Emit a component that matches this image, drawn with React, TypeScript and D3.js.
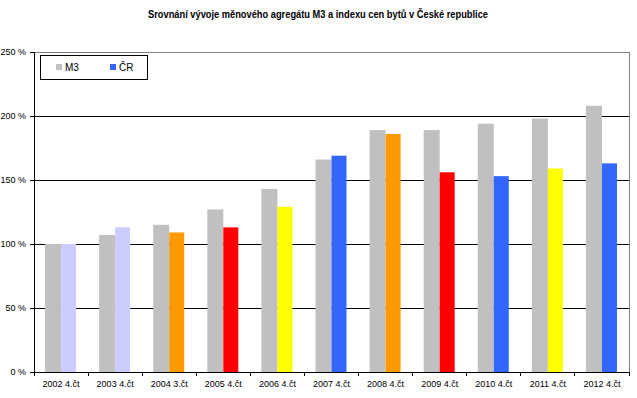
import * as d3 from 'd3'
import { useEffect, useRef } from 'react'

const categories = ['2002 4.čt', '2003 4.čt', '2004 3.čt', '2005 4.čt', '2006 4.čt', '2007 4.čt', '2008 4.čt', '2009 4.čt', '2010 4.čt', '2011 4.čt', '2012 4.čt']
const m3Values = [100, 107, 115, 127, 143, 166, 189, 189, 194, 198, 208]
const crValues = [100, 113, 109, 113, 129, 169, 186, 156, 153, 159, 163]
const crColors = ['#CCCCFF', '#CCCCFF', '#FF9900', '#FF0000', '#FFFF00', '#3366FF', '#FF9900', '#FF0000', '#3366FF', '#FFFF00', '#3366FF']
const yTicks = [0, 50, 100, 150, 200, 250]

const App = () => {
  const ref = useRef<SVGSVGElement>(null)

  useEffect(() => {
    const svg = d3.select(ref.current)
    svg.selectAll('*').remove()

    const left = 34
    const right = 629
    const top = 52
    const bottom = 372
    const font = 'Arial, "Liberation Sans", sans-serif'

    const x = d3.scaleBand().domain(categories).range([left, right])
    const y = d3.scaleLinear().domain([0, 250]).range([bottom, top])
    const bw = 16

    svg
      .append('text')
      .attr('x', 318)
      .attr('y', 18)
      .attr('text-anchor', 'middle')
      .style('font-family', font)
      .style('font-size', '10.5px')
      .style('font-weight', 'bold')
      .attr('textLength', 340)
      .attr('lengthAdjust', 'spacingAndGlyphs')
      .text('Srovnání vývoje měnového agregátu M3 a indexu cen bytů v České republice')

    // plot border (gray)
    svg
      .append('rect')
      .attr('x', left)
      .attr('y', top)
      .attr('width', right - left)
      .attr('height', bottom - top)
      .attr('fill', 'white')
      .attr('stroke', '#808080')
      .attr('stroke-width', 1)
      .attr('shape-rendering', 'crispEdges')

    // grid lines
    svg
      .selectAll('line.grid')
      .data(yTicks.filter((t) => t > 0 && t < 250))
      .enter()
      .append('line')
      .attr('class', 'grid')
      .attr('x1', left)
      .attr('x2', right)
      .attr('y1', (d) => y(d))
      .attr('y2', (d) => y(d))
      .attr('stroke', 'black')
      .attr('shape-rendering', 'crispEdges')

    const g = svg.append('g')
    categories.forEach((c, i) => {
      const cx = (x(c) as number) + x.bandwidth() / 2
      g.append('rect')
        .attr('x', cx - bw)
        .attr('y', y(m3Values[i]))
        .attr('width', bw)
        .attr('height', y(0) - y(m3Values[i]))
        .attr('fill', '#C0C0C0')
      g.append('rect')
        .attr('x', cx)
        .attr('y', y(crValues[i]))
        .attr('width', bw - 1)
        .attr('height', y(0) - y(crValues[i]))
        .attr('fill', crColors[i])
    })

    // y axis
    const yAxis = d3
      .axisLeft(y)
      .tickValues(yTicks)
      .tickSize(4)
      .tickFormat((d) => `${d} %`)
    const ya = svg
      .append('g')
      .attr('transform', `translate(${left},0)`)
      .attr('shape-rendering', 'crispEdges')
      .call(yAxis)
    ya.select('.domain').attr('stroke', 'black')
    ya.selectAll('text').style('font-family', font).style('font-size', '9px').attr('fill', 'black').attr('x', -8)

    // x axis
    const xa = svg.append('g').attr('transform', `translate(0,${bottom})`).attr('shape-rendering', 'crispEdges')
    xa.append('line').attr('x1', left).attr('x2', right).attr('stroke', 'black')
    xa.selectAll('line.tick')
      .data(d3.range(categories.length + 1))
      .enter()
      .append('line')
      .attr('class', 'tick')
      .attr('x1', (i) => left + i * x.step())
      .attr('x2', (i) => left + i * x.step())
      .attr('y1', 0)
      .attr('y2', 4)
      .attr('stroke', 'black')
    xa.selectAll('text')
      .data(categories)
      .enter()
      .append('text')
      .attr('x', (d) => (x(d) as number) + x.bandwidth() / 2)
      .attr('y', 15)
      .attr('text-anchor', 'middle')
      .style('font-family', font)
      .style('font-size', '9px')
      .text((d) => d)

    // legend
    const lg = svg.append('g')
    lg.append('rect')
      .attr('x', 40.5)
      .attr('y', 55.5)
      .attr('width', 107)
      .attr('height', 24)
      .attr('fill', 'white')
      .attr('stroke', 'black')
    const items = [
      { label: 'M3', color: '#C0C0C0', x: 56 },
      { label: 'ČR', color: '#3366FF', x: 110 },
    ]
    items.forEach((it) => {
      lg.append('rect').attr('x', it.x).attr('y', 64).attr('width', 6).attr('height', 6).attr('fill', it.color)
      lg.append('text')
        .attr('x', it.x + 9)
        .attr('y', 71)
        .style('font-family', font)
        .style('font-size', '10px')
        .text(it.label)
    })
  }, [])

  return (
    <svg ref={ref} width={637} height={398} style={{ position: 'absolute', left: 0, top: 0, background: 'white' }} />
  )
}

export default App
